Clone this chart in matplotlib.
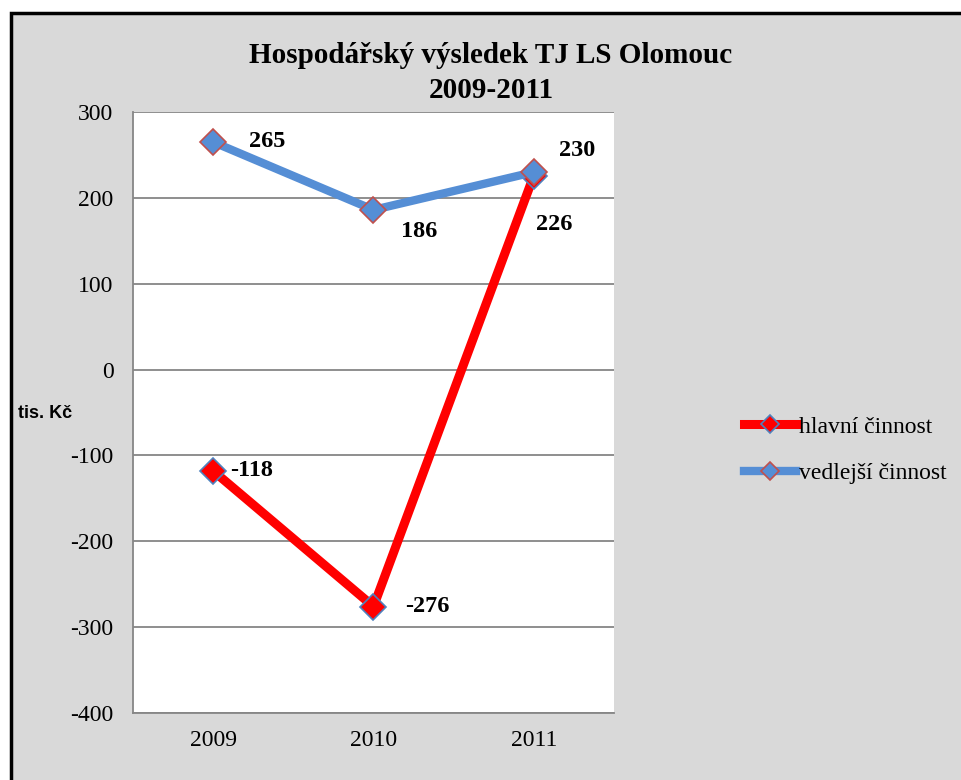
import matplotlib.pyplot as plt
from matplotlib.patches import Rectangle

years = ["2009", "2010", "2011"]
hlavni = [-118, -276, 226]
vedlejsi = [265, 186, 230]
yticks = [-400, -300, -200, -100, 0, 100, 200, 300]

# label offsets in pixels (dx, dy) for each point
hlavni_off = [(38, 0), (54, 0), (20, -49)]
vedlejsi_off = [(54, 1), (46, -22), (43, 22)]

serif = ["Liberation Serif", "DejaVu Serif"]
red = "#FF0000"
blue = "#558ED5"

fig = plt.figure(figsize=(9.62, 7.8), dpi=100)
fig.patch.set_facecolor("white")
fig.patches.append(Rectangle((11 / 962, -0.05), 1.1, (780 - 13) / 780 + 0.05,
                             transform=fig.transFigure, facecolor="#D9D9D9",
                             edgecolor="black", linewidth=2.5, zorder=-1))

ax = fig.add_axes([133 / 962, 67 / 780, 481 / 962, 601 / 780])
ax.set_facecolor("white")
x = range(len(years))

ax.plot(x, hlavni, color=red, lw=6.5, marker="D", markersize=13,
        markerfacecolor=red, markeredgecolor="#4F81BD", markeredgewidth=1.2,
        label="hlavní činnost", zorder=3)
ax.plot(x, vedlejsi, color=blue, lw=6, marker="D", markersize=13,
        markerfacecolor=blue, markeredgecolor="#C0504D", markeredgewidth=1.2,
        label="vedlejší činnost", zorder=4)

for i, v in enumerate(hlavni):
    ax.annotate(str(v), (i, v), xytext=hlavni_off[i], textcoords="offset pixels",
                ha="center", va="center", fontsize=17.5, fontweight="bold",
                family=serif, zorder=5)
for i, v in enumerate(vedlejsi):
    ax.annotate(str(v), (i, v), xytext=vedlejsi_off[i], textcoords="offset pixels",
                ha="center", va="center", fontsize=17.5, fontweight="bold",
                family=serif, zorder=5)

ax.set_xlim(-0.5, 2.5)
ax.set_ylim(-400, 300)
ax.set_xticks(list(x))
ax.set_xticklabels(years, family=serif, fontsize=17)
ax.set_yticks(yticks)
ax.set_yticklabels([str(t) for t in yticks], family=serif, fontsize=17)
ax.tick_params(length=0, pad=14)
ax.tick_params(axis="x", pad=12)
ax.grid(axis="y", color="#868686", lw=1.3)
ax.set_axisbelow(True)
for s in ["top", "right"]:
    ax.spines[s].set_visible(False)
for s in ["left", "bottom"]:
    ax.spines[s].set_color("#868686")
    ax.spines[s].set_linewidth(1.3)

fig.text(45 / 962, 1 - 413 / 780, "tis. Kč", ha="center", va="center",
         fontsize=13, fontweight="bold", family=["Liberation Sans", "DejaVu Sans"])

fig.text(491 / 962, 1 - 73 / 780, "Hospodářský výsledek TJ LS Olomouc\n2009-2011",
         ha="center", va="center", fontsize=21, fontweight="bold", family=serif,
         linespacing=1.35)

fig.legend(loc="center left", bbox_to_anchor=(723 / 962, 1 - 450 / 780),
           frameon=False, prop={"family": serif, "size": 17},
           handlelength=2.2, handletextpad=0.1, labelspacing=1.05,
           markerscale=0.7)

fig.savefig("out.png", dpi=100)
